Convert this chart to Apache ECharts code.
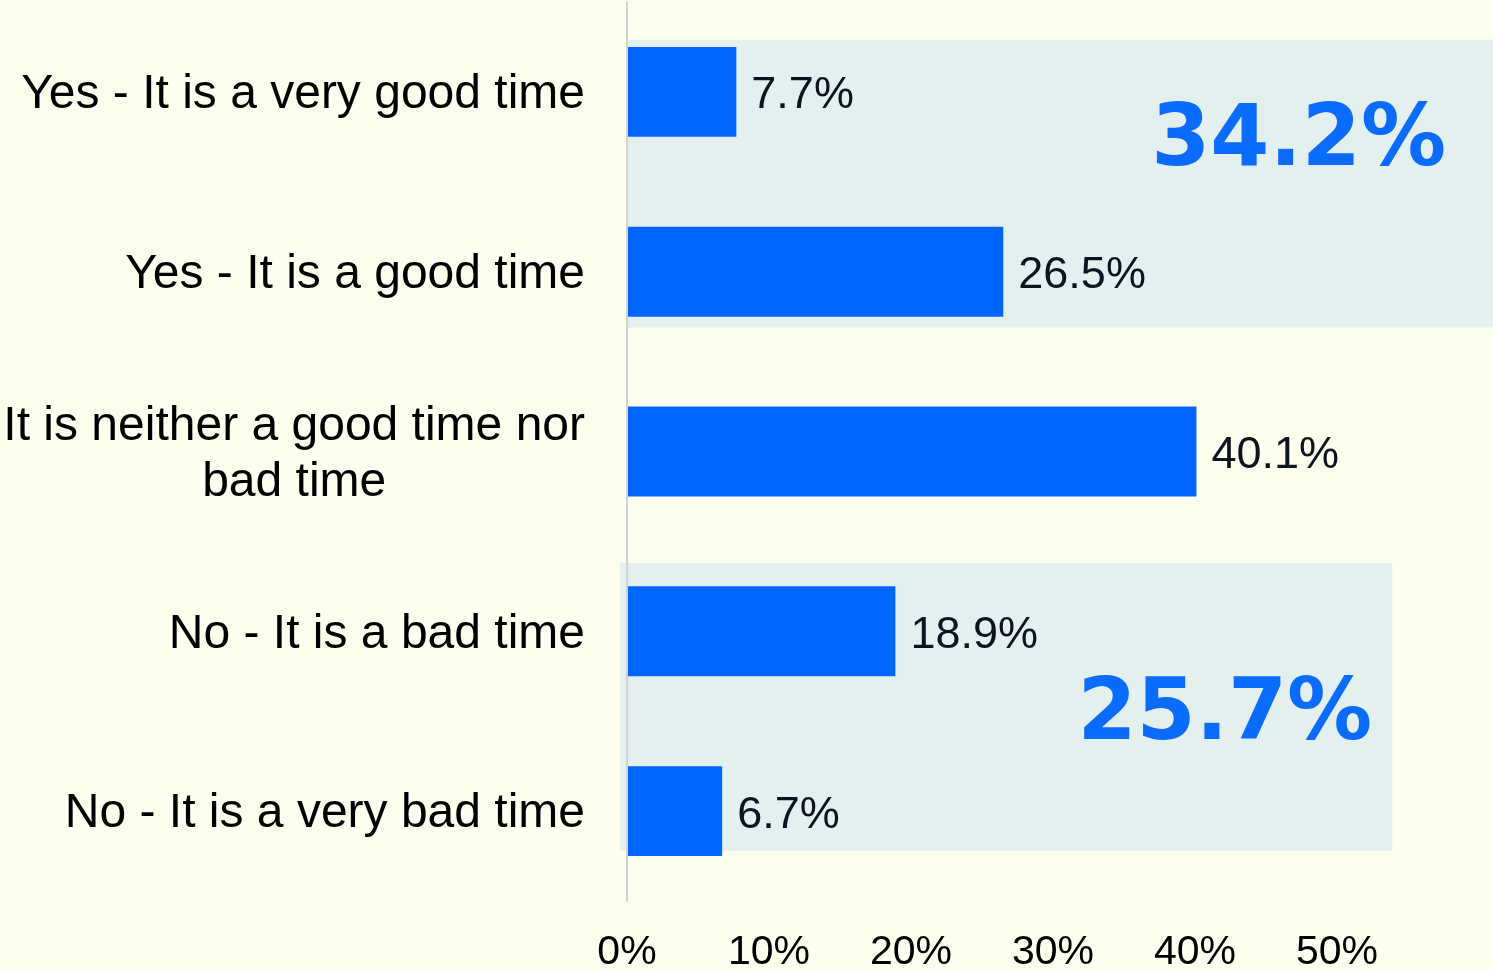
<!DOCTYPE html>
<html>
<head>
<meta charset="utf-8">
<script src="https://cdn.jsdelivr.net/npm/echarts@6/dist/echarts.min.js"></script>
<style>
  html, body { margin: 0; padding: 0; background: #fdfeee; }
  #chart { width: 1493px; height: 970px; }
</style>
</head>
<body>
<div id="chart"></div>
<script>
// answers, top to bottom
const categories = [
  'Yes - It is a very good time',
  'Yes - It is a good time',
  'It is neither a good time nor\nbad time',
  'No - It is a bad time',
  'No - It is a very bad time'
]
const values = [7.7, 26.5, 40.1, 18.9, 6.7]
const xTicks = [0, 10, 20, 30, 40, 50]

// grouped totals (yes / no)
const groupTotals = ['34.2%', '25.7%']

// shaded boxes behind the groups, in axis units: [x0, x1, y0, y1, labelX, labelY]
const boxLayout = [
  [0, 61, -0.29, 1.31, 47.3, 0.285],
  [-0.5, 53.9, 2.62, 4.22, 42.1, 3.475]
]

const chart = echarts.init(document.getElementById('chart'))

const renderBox = (params, api) => {
  const p0 = api.coord([api.value(0), api.value(2)])
  const p1 = api.coord([api.value(1), api.value(3)])
  const pl = api.coord([api.value(4), api.value(5)])
  return {
    type: 'group',
    children: [
      {
        type: 'rect',
        shape: { x: p0[0], y: p0[1], width: p1[0] - p0[0], height: p1[1] - p0[1] },
        style: { fill: '#e4efef' }
      },
      {
        type: 'text',
        z2: 10,
        style: {
          text: groupTotals[params.dataIndex],
          x: pl[0],
          y: pl[1],
          align: 'center',
          verticalAlign: 'middle',
          fill: '#0a6bff',
          fontFamily: 'DejaVu Sans',
          fontWeight: 'bold',
          fontSize: 85
        }
      }
    ]
  }
}

chart.setOption({
  backgroundColor: '#fdfeee',
  animation: false,
  grid: { left: 627, right: 156, top: 2, bottom: 69, containLabel: false, outerBoundsMode: 'none' },
  xAxis: {
    type: 'value',
    min: 0,
    max: 50,
    interval: 10,
    axisLine: { show: false },
    axisTick: { show: false },
    splitLine: { show: false },
    axisLabel: {
      margin: 31,
      fontSize: 41,
      fontFamily: 'Liberation Sans',
      color: '#000',
      customValues: xTicks,
      formatter: '{value}%'
    }
  },
  yAxis: [
    {
      type: 'category',
      data: categories,
      inverse: true,
      z: 3,
      axisLine: { show: true, lineStyle: { color: '#d3d3d3', width: 2 } },
      axisTick: { show: false },
      axisLabel: {
        margin: 42,
        fontSize: 48,
        fontFamily: 'Liberation Sans',
        color: '#000',
        lineHeight: 56,
        padding: [6, 0, 0, 0],
        formatter: (v) => v.indexOf('\n') >= 0
          ? v.split('\n').map((s) => '{c|' + s + '}').join('\n')
          : v,
        rich: {
          c: { align: 'center', fontSize: 48, fontFamily: 'Liberation Sans', color: '#000', lineHeight: 56 }
        }
      }
    },
    {
      type: 'value',
      min: -0.5,
      max: 4.5,
      inverse: true,
      show: false
    }
  ],
  series: [
    {
      type: 'custom',
      yAxisIndex: 1,
      clip: false,
      z: 1,
      silent: true,
      renderItem: renderBox,
      data: boxLayout
    },
    {
      type: 'bar',
      z: 2,
      data: values,
      barWidth: '50%',
      itemStyle: { color: '#0066ff' },
      label: {
        show: true,
        position: 'right',
        distance: 15,
        offset: [0, 4],
        fontSize: 45,
        fontFamily: 'Liberation Sans',
        color: '#0d1420',
        formatter: (p) => p.value.toFixed(1) + '%'
      }
    }
  ]
})
</script>
</body>
</html>
